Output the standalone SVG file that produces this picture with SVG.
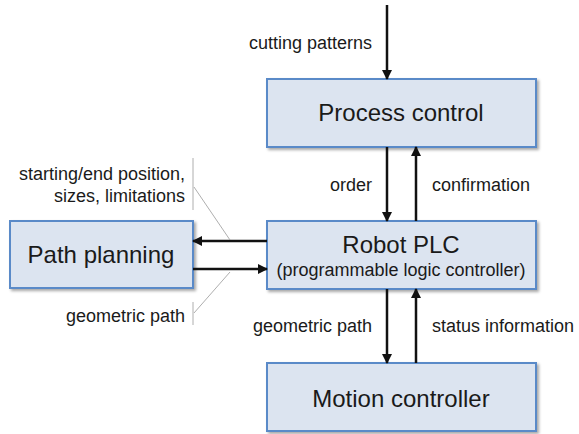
<svg xmlns="http://www.w3.org/2000/svg" width="579" height="434" viewBox="0 0 579 434">
<defs>
<filter id="sh" x="-10%" y="-10%" width="130%" height="140%"><feGaussianBlur in="SourceAlpha" stdDeviation="1.5"/><feOffset dx="2" dy="2"/><feComponentTransfer><feFuncA type="linear" slope="0.35"/></feComponentTransfer><feMerge><feMergeNode/><feMergeNode in="SourceGraphic"/></feMerge></filter>
<marker id="ah" markerWidth="10" markerHeight="10" refX="9" refY="5" orient="auto" markerUnits="userSpaceOnUse"><path d="M0,0 L10,5 L0,10 Z" fill="#111"/></marker>
</defs>
<style>
.box{fill:#dce4f0;stroke:#5a8ac8;stroke-width:2;filter:url(#sh)}
.t{font-family:"Liberation Sans",Arial,sans-serif;fill:#1a1a1a}
.big{font-size:24px;text-anchor:middle}
.sm{font-size:18px}
.ar{stroke:#111;stroke-width:2.5;fill:none;marker-end:url(#ah)}
.thin{stroke:#999;stroke-width:0.8;fill:none}
</style>
<rect width="579" height="434" fill="#fff"/>
<g id="process-control"><rect class="box" x="267" y="79" width="269" height="68"/><text class="t big" x="401" y="121">Process control</text></g>
<g id="robot-plc"><rect class="box" x="267" y="221" width="269" height="68"/><text class="t big" x="401" y="253">Robot PLC</text><text class="t" x="401" y="276" style="font-size:18px;text-anchor:middle">(programmable logic controller)</text></g>
<g id="motion-controller"><rect class="box" x="267" y="363" width="269" height="68"/><text class="t big" x="401" y="407">Motion controller</text></g>
<g id="path-planning"><rect class="box" x="10" y="221" width="183" height="67"/><text class="t big" x="101" y="263">Path planning</text></g>
<g id="connectors">
<line class="ar" x1="387" y1="5" x2="387" y2="79"/>
<line class="ar" x1="387" y1="147" x2="387" y2="221"/>
<line class="ar" x1="416" y1="221" x2="416" y2="147"/>
<line class="ar" x1="387" y1="289" x2="387" y2="363"/>
<line class="ar" x1="416" y1="363" x2="416" y2="289"/>
<line class="ar" x1="267" y1="241" x2="193" y2="241"/>
<line class="ar" x1="193" y1="269" x2="267" y2="269"/>
<line class="thin" x1="193" y1="158" x2="193" y2="210"/>
<line class="thin" x1="194" y1="187" x2="230" y2="240"/>
<line class="thin" x1="193" y1="302" x2="193" y2="325"/>
<line class="thin" x1="194" y1="313" x2="230" y2="272"/>
</g>
<g id="labels">
<text class="t sm" x="372" y="49" text-anchor="end">cutting patterns</text>
<text class="t sm" x="372" y="191" text-anchor="end">order</text>
<text class="t sm" x="432" y="191">confirmation</text>
<text class="t sm" x="372" y="332" text-anchor="end">geometric path</text>
<text class="t sm" x="432" y="332">status information</text>
<text class="t sm" x="185" y="180" text-anchor="end">starting/end position,</text>
<text class="t sm" x="185" y="202" text-anchor="end">sizes, limitations</text>
<text class="t sm" x="185" y="322" text-anchor="end">geometric path</text>
</g>
</svg>
